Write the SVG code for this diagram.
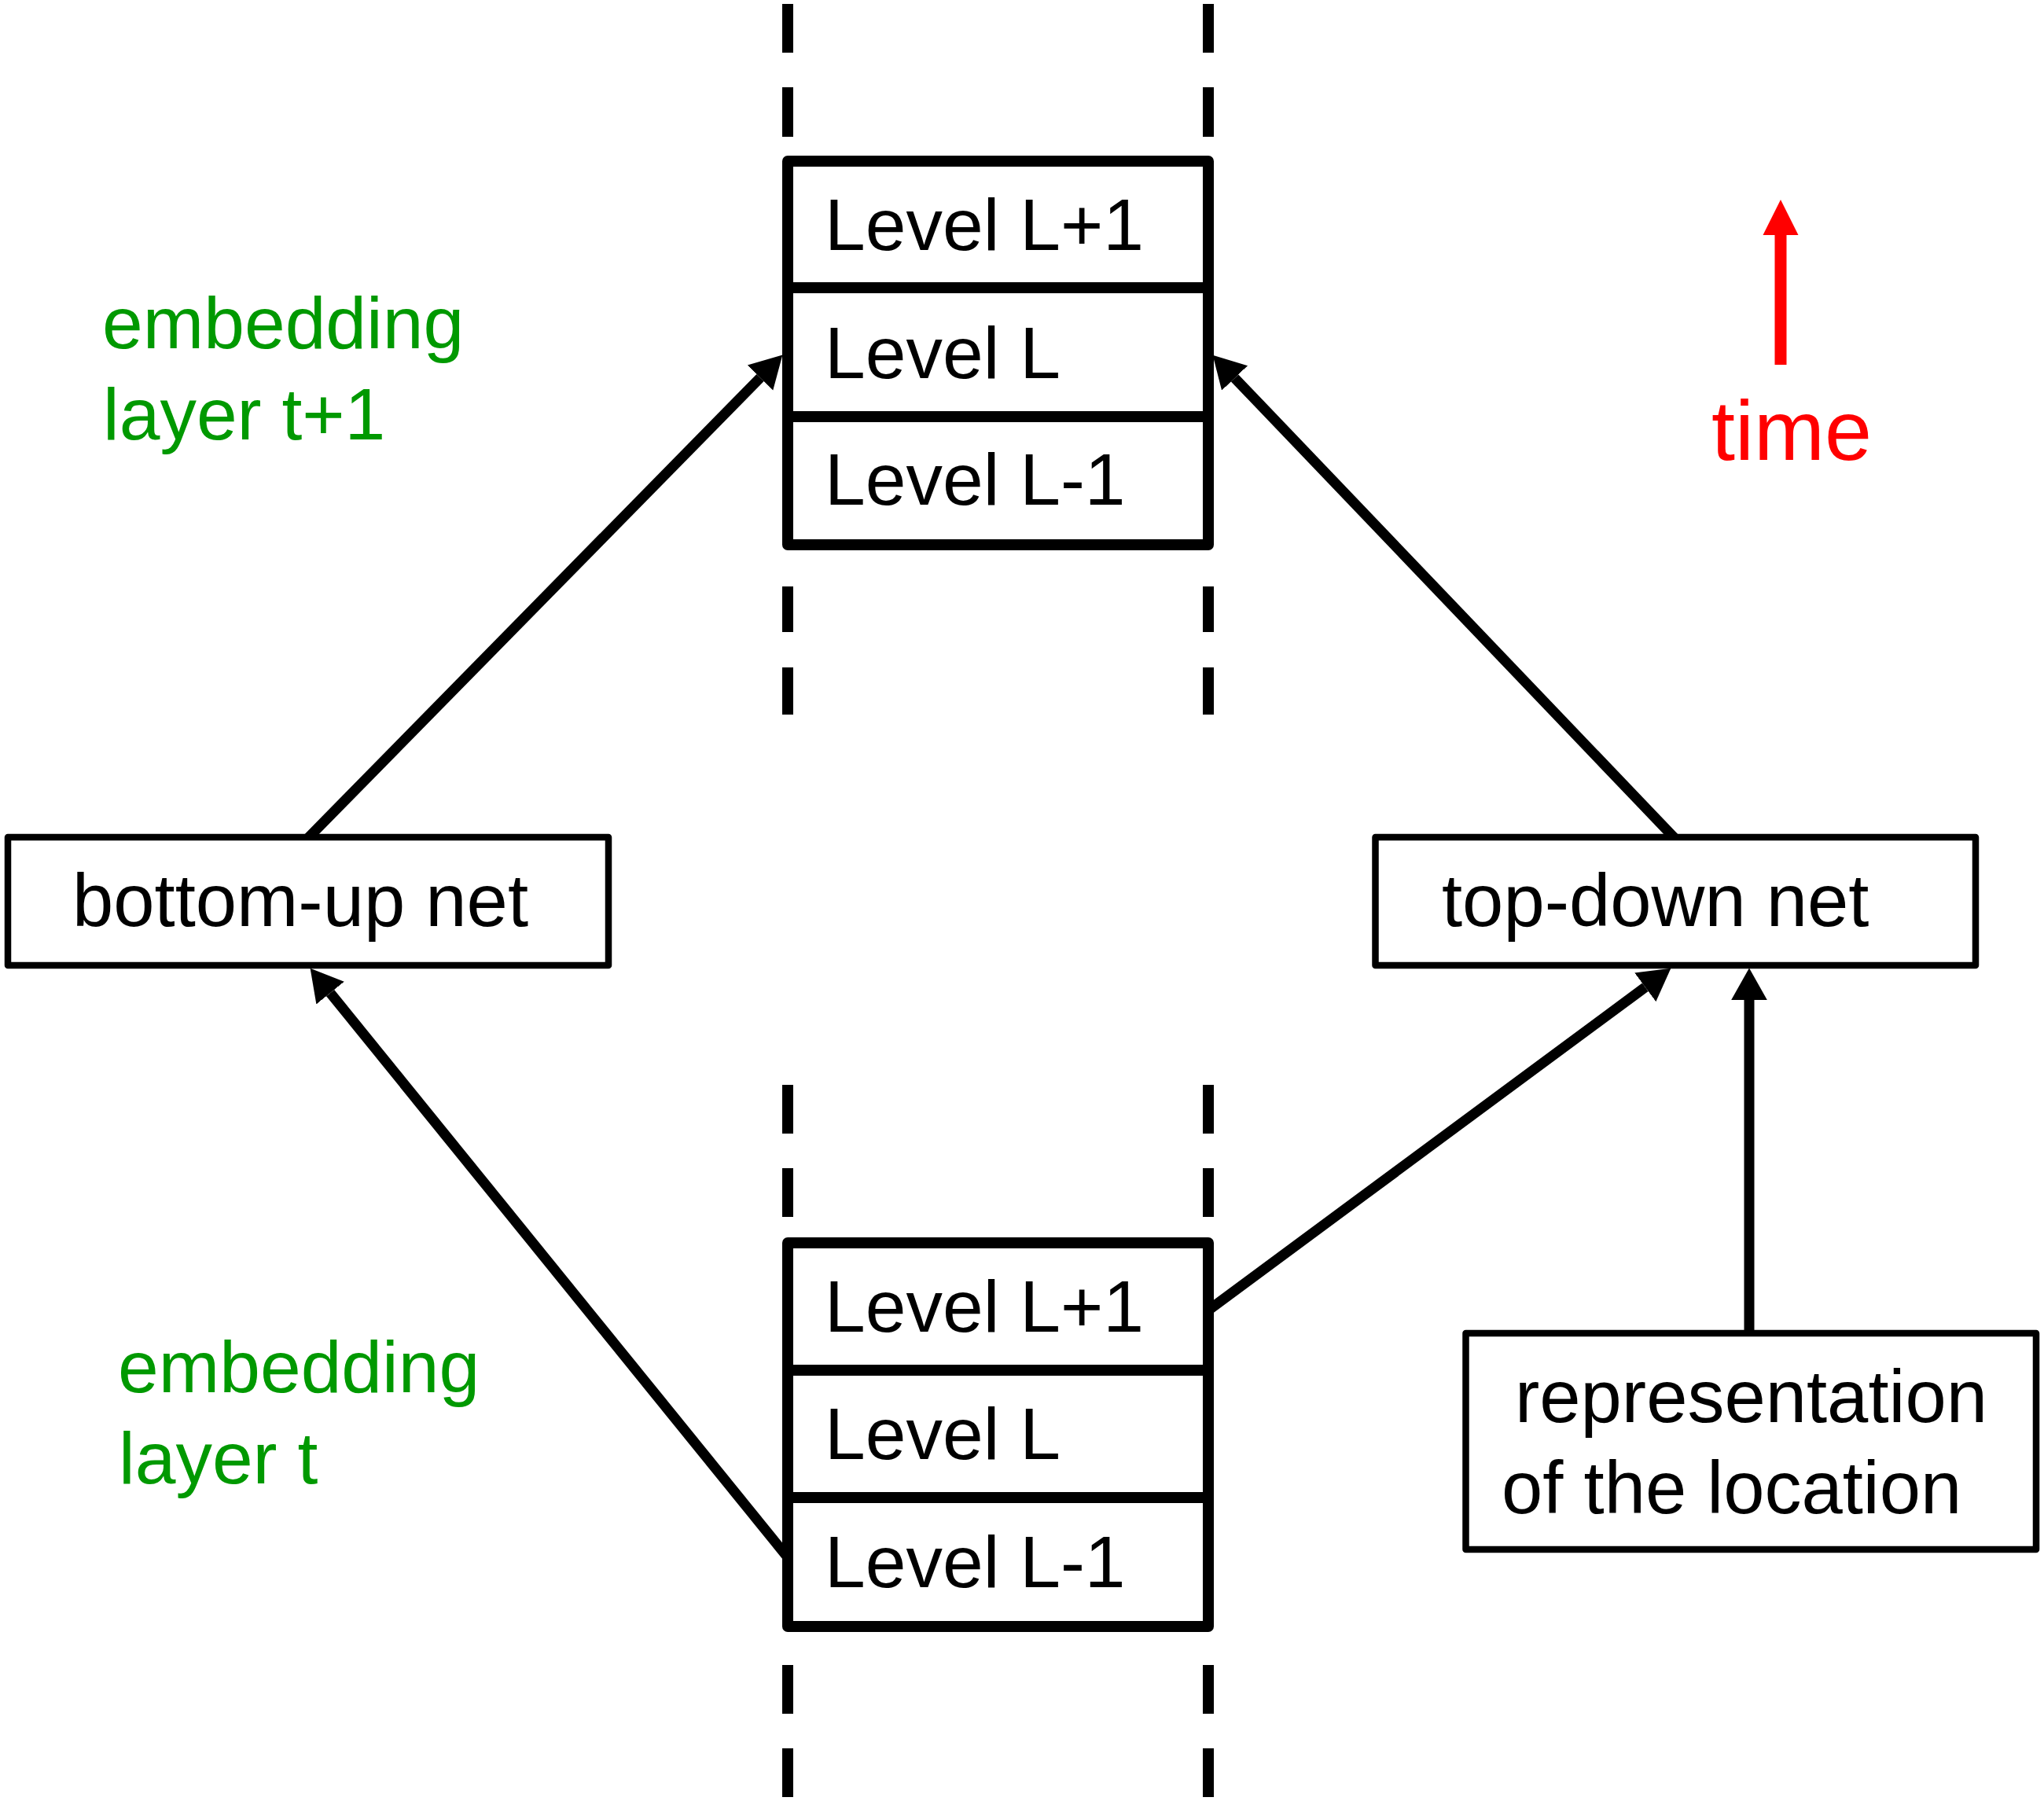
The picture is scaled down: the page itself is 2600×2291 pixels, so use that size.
<svg xmlns="http://www.w3.org/2000/svg" width="2600" height="2291" viewBox="0 0 2600 2291">
<defs>
<style>
.stack{fill:#fff;stroke:#000;stroke-width:14;stroke-linejoin:round}
.div{stroke:#000;stroke-width:14}
.box{fill:#fff;stroke:#000;stroke-width:8.5;stroke-linejoin:round}
.dash{stroke:#000;stroke-width:14;fill:none}
.conn{stroke:#000;stroke-width:13;fill:none}
.red{stroke:#ff0000;stroke-width:15;fill:none}
.t{font-family:"Liberation Sans",Arial,sans-serif;font-size:94px;fill:#000}
.lv{font-family:"Liberation Sans",Arial,sans-serif;font-size:93px;fill:#000}
.g{font-family:"Liberation Sans",Arial,sans-serif;font-size:93px;fill:#009900}
.r{font-family:"Liberation Sans",Arial,sans-serif;font-size:108px;fill:#ff0000}
</style>
<marker id="ah" markerUnits="userSpaceOnUse" markerWidth="44" markerHeight="48" viewBox="0 -24 44 48" refX="0" refY="0" orient="auto">
<path d="M0,-22.8 L40.5,0 L0,22.8 Z" fill="#000"/>
</marker>
<marker id="ahr" markerUnits="userSpaceOnUse" markerWidth="48" markerHeight="48" viewBox="0 -24 48 48" refX="0" refY="0" orient="auto">
<path d="M0,-22.5 L45,0 L0,22.5 Z" fill="#ff0000"/>
</marker>
</defs>
<rect width="2600" height="2291" fill="#fff"/>

<g id="dashes">
<path class="dash" d="M1002,5 V67 M1002,111 V174 M1002,746 V804 M1002,849 V909 M1537,5 V67 M1537,111 V174 M1537,746 V804 M1537,849 V909"/>
<path class="dash" d="M1002,1380 V1442 M1002,1486 V1548 M1002,2118 V2180 M1002,2224 V2286 M1537,1380 V1442 M1537,1486 V1548 M1537,2118 V2180 M1537,2224 V2286"/>
</g>

<g id="connectors">
<line class="conn" x1="383" y1="1075" x2="967" y2="480.5" marker-end="url(#ah)"/>
<line class="conn" x1="2138.6" y1="1075" x2="1570.6" y2="480.9" marker-end="url(#ah)"/>
<line class="conn" x1="1012" y1="1993.5" x2="420.1" y2="1263.1" marker-end="url(#ah)"/>
<line class="conn" x1="1532" y1="1670.4" x2="2092.8" y2="1255.8" marker-end="url(#ah)"/>
<line class="conn" x1="2225" y1="1705" x2="2225" y2="1272" marker-end="url(#ah)"/>
</g>

<g id="stack-t1">
<rect class="stack" x="1002" y="205" width="535" height="488"/>
<line class="div" x1="1002" y1="366" x2="1537" y2="366"/>
<line class="div" x1="1002" y1="530" x2="1537" y2="530"/>
<text class="lv" x="1049" y="318">Level L+1</text>
<text class="lv" x="1049" y="481">Level L</text>
<text class="lv" x="1049" y="642">Level L-1</text>
</g>

<g id="stack-t">
<rect class="stack" x="1002" y="1581" width="535" height="488"/>
<line class="div" x1="1002" y1="1743" x2="1537" y2="1743"/>
<line class="div" x1="1002" y1="1905" x2="1537" y2="1905"/>
<text class="lv" x="1049" y="1694">Level L+1</text>
<text class="lv" x="1049" y="1856">Level L</text>
<text class="lv" x="1049" y="2019">Level L-1</text>
</g>

<g id="bottom-up">
<rect class="box" x="10" y="1065" width="764" height="163"/>
<text class="t" x="92" y="1178">bottom-up net</text>
</g>

<g id="top-down">
<rect class="box" x="1749.5" y="1065" width="763.5" height="163"/>
<text class="t" x="1834" y="1178">top-down net</text>
</g>

<g id="location">
<rect class="box" x="1864.5" y="1696" width="725.5" height="275"/>
<text class="t" x="1927" y="1809">representation</text>
<text class="t" x="1910" y="1925">of the location</text>
</g>

<g id="label-t1">
<text class="g" x="130" y="443">embedding</text>
<text class="g" x="131" y="559">layer t+1</text>
</g>

<g id="label-t">
<text class="g" x="150" y="1771">embedding</text>
<text class="g" x="151" y="1887">layer t</text>
</g>

<g id="time">
<line class="red" x1="2265" y1="464" x2="2265" y2="299" marker-end="url(#ahr)"/>
<text class="r" x="2177" y="585">time</text>
</g>
</svg>
